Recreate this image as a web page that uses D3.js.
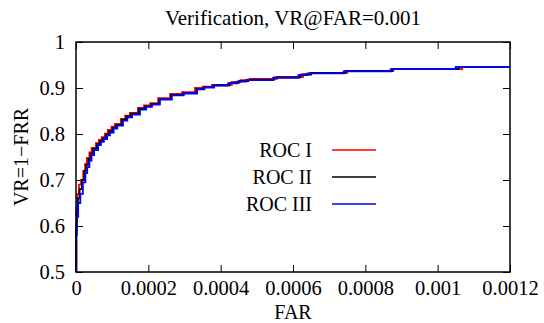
<!DOCTYPE html>
<html lang="en">
<head>
<meta charset="utf-8">
<style>
  body { margin: 0; background: #fff; }
  svg text { font-family: "Liberation Serif", "Times New Roman", serif; fill: #000; }
</style>
</head>
<body>
<svg width="544" height="323"></svg>
<script src="https://d3js.org/d3.v7.min.js"></script>
<script>
// ROC step curves: [FAR, VR]
var rocI = [
  [0, 0.5], [0.0000005, 0.60], [0.0000015, 0.64], [0.000004, 0.67], [0.000008, 0.69],
  [0.000014, 0.70], [0.000020, 0.72], [0.000025, 0.735], [0.000030, 0.748], [0.000037, 0.76],
  [0.000043, 0.770], [0.000055, 0.780], [0.000063, 0.787], [0.000071, 0.793], [0.000080, 0.801],
  [0.000088, 0.809], [0.000098, 0.816], [0.000108, 0.822], [0.000124, 0.833], [0.000136, 0.840],
  [0.000149, 0.846], [0.000171, 0.857], [0.000188, 0.862], [0.000205, 0.867], [0.000227, 0.878],
  [0.000260, 0.887], [0.000293, 0.891], [0.000329, 0.900], [0.000350, 0.903], [0.000376, 0.907],
  [0.000431, 0.913], [0.000455, 0.917], [0.000481, 0.920], [0.000556, 0.924], [0.000628, 0.930],
  [0.000647, 0.933], [0.000750, 0.937], [0.000877, 0.941], [0.001068, 0.946], [0.0012, 0.946]
];
var rocII = [
  [0, 0.5], [0.0000008, 0.59], [0.000002, 0.63], [0.000005, 0.66], [0.000010, 0.68],
  [0.000016, 0.70], [0.000023, 0.72], [0.000028, 0.733], [0.000034, 0.746], [0.000040, 0.758],
  [0.000047, 0.768], [0.000058, 0.778], [0.000066, 0.785], [0.000074, 0.791], [0.000083, 0.799],
  [0.000091, 0.806], [0.000101, 0.814], [0.000111, 0.820], [0.000127, 0.831], [0.000139, 0.838],
  [0.000152, 0.844], [0.000174, 0.855], [0.000191, 0.860], [0.000208, 0.865], [0.000230, 0.876],
  [0.000263, 0.885], [0.000296, 0.889], [0.000333, 0.898], [0.000353, 0.902], [0.000380, 0.906],
  [0.000425, 0.911], [0.000450, 0.915], [0.000476, 0.918], [0.000548, 0.923], [0.000620, 0.929],
  [0.000650, 0.933], [0.000745, 0.937], [0.000875, 0.941], [0.001058, 0.946], [0.0012, 0.946]
];
var rocIII = [
  [0, 0.5], [0.000001, 0.58], [0.0000025, 0.62], [0.000006, 0.65], [0.000012, 0.67],
  [0.000019, 0.695], [0.000026, 0.715], [0.000031, 0.728], [0.000037, 0.742], [0.000043, 0.754],
  [0.000050, 0.765], [0.000061, 0.776], [0.000069, 0.783], [0.000077, 0.789], [0.000086, 0.797],
  [0.000094, 0.803], [0.000104, 0.812], [0.000114, 0.818], [0.000130, 0.829], [0.000142, 0.836],
  [0.000155, 0.842], [0.000177, 0.853], [0.000194, 0.859], [0.000210, 0.864], [0.000232, 0.875],
  [0.000265, 0.884], [0.000298, 0.888], [0.000335, 0.897], [0.000355, 0.901], [0.000382, 0.905],
  [0.000420, 0.910], [0.000445, 0.914], [0.000470, 0.917], [0.000545, 0.922], [0.000615, 0.928],
  [0.000640, 0.932], [0.000740, 0.936], [0.000870, 0.941], [0.001050, 0.946], [0.0012, 0.946]
];

var seriesNames = ["ROC I", "ROC II", "ROC III"];
var seriesColors = ["#ff0000", "#000000", "#0000ff"];
var xTicks = [0, 0.0002, 0.0004, 0.0006, 0.0008, 0.001, 0.0012];
var xTickLabels = ["0", "0.0002", "0.0004", "0.0006", "0.0008", "0.001", "0.0012"];
var yTicks = [0.5, 0.6, 0.7, 0.8, 0.9, 1];
var yTickLabels = ["0.5", "0.6", "0.7", "0.8", "0.9", "1"];

var svg = d3.select("svg"),
    margin = {top: 42, right: 34, bottom: 51, left: 76},
    width = +svg.attr("width") - margin.left - margin.right,
    height = +svg.attr("height") - margin.top - margin.bottom,
    g = svg.append("g").attr("transform", "translate(" + margin.left + "," + margin.top + ")");

var x = d3.scaleLinear().domain([0, 0.0012]).range([0, width]);
var y = d3.scaleLinear().domain([0.5, 1]).range([height, 0]);

// title + axis labels
svg.append("text")
    .attr("x", margin.left + width / 2)
    .attr("y", 25)
    .attr("text-anchor", "middle")
    .attr("font-size", 21)
    .text("Verification, VR@FAR=0.001");

svg.append("text")
    .attr("x", margin.left + width / 2)
    .attr("y", 319)
    .attr("text-anchor", "middle")
    .attr("font-size", 20)
    .text("FAR");

svg.append("text")
    .attr("transform", "translate(28," + (margin.top + height / 2) + ") rotate(-90)")
    .attr("text-anchor", "middle")
    .attr("font-size", 20)
    .text("VR=1\u2212FRR");

// axes, ticks pointing inward, mirrored on the opposite side
var tk = 7;
g.append("g")
    .attr("transform", "translate(0," + height + ")")
    .call(d3.axisBottom(x).tickValues(xTicks).tickSizeInner(-tk).tickSizeOuter(0)
      .tickFormat(function(d, i) { return xTickLabels[i]; }))
    .call(function(a) {
      a.select(".domain").remove();
      a.selectAll("text").attr("font-size", 20.5).attr("font-family", null).attr("y", 23).attr("dy", 0);
    });
g.append("g")
    .call(d3.axisTop(x).tickValues(xTicks).tickSizeInner(-tk).tickSizeOuter(0).tickFormat(""))
    .call(function(a) { a.select(".domain").remove(); });
g.append("g")
    .call(d3.axisLeft(y).tickValues(yTicks).tickSizeInner(-tk).tickSizeOuter(0).tickPadding(11)
      .tickFormat(function(d, i) { return yTickLabels[i]; }))
    .call(function(a) {
      a.select(".domain").remove();
      a.selectAll("text").attr("font-size", 20.5).attr("font-family", null);
    });
g.append("g")
    .attr("transform", "translate(" + width + ",0)")
    .call(d3.axisRight(y).tickValues(yTicks).tickSizeInner(-tk).tickSizeOuter(0).tickFormat(""))
    .call(function(a) { a.select(".domain").remove(); });

var line = d3.line()
    .x(function(d) { return x(d[0]); })
    .y(function(d) { return y(d[1]); })
    .curve(d3.curveStepAfter);

[rocI, rocII, rocIII].forEach(function(s, i) {
  g.append("path")
      .datum(s)
      .attr("fill", "none")
      .attr("stroke", seriesColors[i])
      .attr("stroke-width", 1.8)
      .attr("d", line);
});

g.append("rect")
    .attr("width", width)
    .attr("height", height)
    .attr("fill", "none")
    .attr("stroke", "#000")
    .attr("stroke-width", 1.5);

// legend
var legend = g.append("g")
    .selectAll("g")
    .data(seriesNames)
    .enter().append("g")
      .attr("transform", function(d, i) { return "translate(0," + (108 + i * 27) + ")"; });
legend.append("text")
    .attr("x", 236)
    .attr("dy", "0.33em")
    .attr("text-anchor", "end")
    .attr("font-size", 20)
    .text(function(d) { return d; });
legend.append("line")
    .attr("x1", 256)
    .attr("x2", 300)
    .attr("stroke", function(d, i) { return seriesColors[i]; })
    .attr("stroke-width", 1.3);
</script>
</body>
</html>
